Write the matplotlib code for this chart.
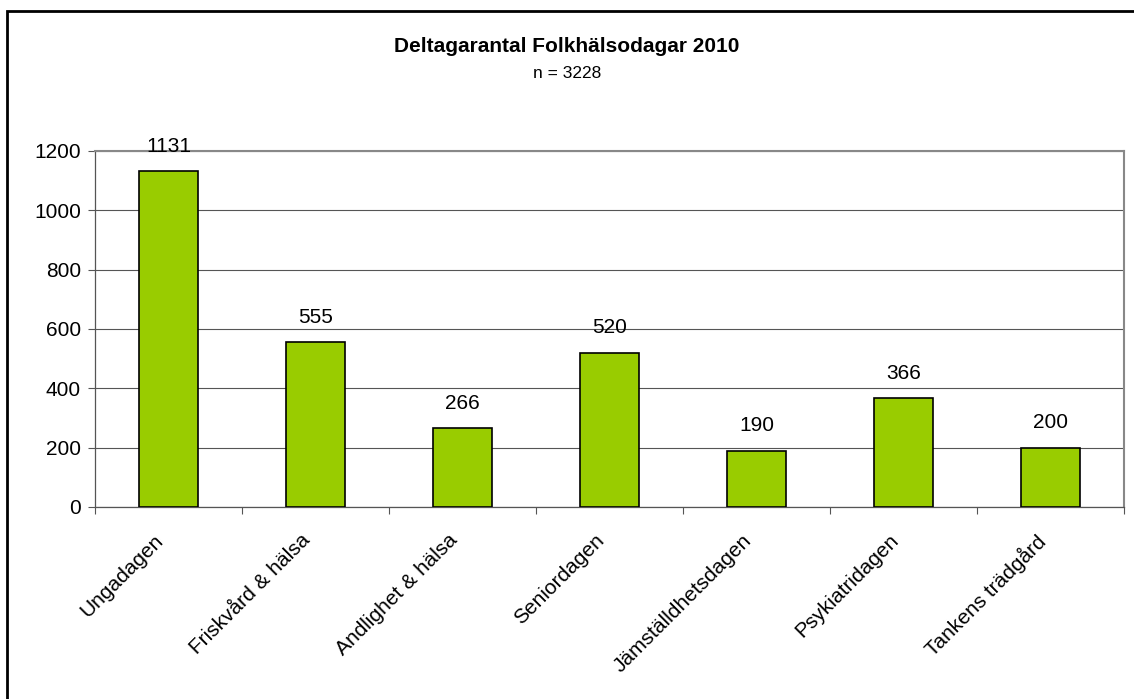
import matplotlib
matplotlib.use("Agg")
import matplotlib.pyplot as plt
from matplotlib.patches import Rectangle
import matplotlib.transforms as mtransforms
import numpy as np

categories = ["Ungadagen", "Friskvård & hälsa", "Andlighet & hälsa", "Seniordagen",
              "Jämställdhetsdagen", "Psykiatridagen", "Tankens trädgård"]
values = [1131, 555, 266, 520, 190, 366, 200]
yticks = [0, 200, 400, 600, 800, 1000, 1200]
title = "Deltagarantal Folkhälsodagar 2010"
subtitle = "n = 3228"

plt.rcParams['font.family'] = ['Liberation Sans', 'DejaVu Sans']

W, H = 1134, 699
fig = plt.figure(figsize=(W / 100, H / 100), dpi=100)
ax = fig.add_axes([95 / W, 1 - 507 / H, (1124 - 95) / W, (507 - 151) / H])

x = np.arange(len(categories))
ax.bar(x, values, width=0.4, color="#99CC00", edgecolor="black", linewidth=1.2, zorder=3)

ax.set_xlim(-0.5, len(categories) - 0.5)
ax.set_ylim(0, 1200)
ax.set_yticks(yticks)
ax.set_yticklabels([str(t) for t in yticks], fontsize=15)
ax.yaxis.grid(True, color="#555555", linewidth=0.8, zorder=0)
ax.tick_params(axis='y', length=5, width=0.8, color="#555555", pad=5)

ax.set_xticks(x)
ax.set_xticklabels(categories, rotation=45, ha='right', va='top',
                   rotation_mode='anchor', fontsize=15)
ax.tick_params(axis='x', which='major', length=0, pad=14)
ax.set_xticks(np.arange(len(categories) + 1) - 0.5, minor=True)
ax.tick_params(axis='x', which='minor', length=5, width=0.8, color="#555555")

offset = mtransforms.ScaledTranslation(-15 / 100, -4 / 100, fig.dpi_scale_trans)
for lbl in ax.get_xticklabels():
    lbl.set_transform(lbl.get_transform() + offset)

for s in ['left', 'bottom']:
    ax.spines[s].set_color("#555555")
    ax.spines[s].set_linewidth(0.9)
for s in ['top', 'right']:
    ax.spines[s].set_color("#888888")
    ax.spines[s].set_linewidth(1.5)

for xi, v in zip(x, values):
    ax.annotate(str(v), (xi, v), xytext=(0, 14), textcoords='offset points',
                ha='center', va='baseline', fontsize=15)

fig.text(0.5, 1 - 46 / H, title, ha='center', va='center', fontsize=15, fontweight='bold')
fig.text(0.5, 1 - 74 / H, subtitle, ha='center', va='center', fontsize=12.5)

fig.patches.append(Rectangle((7 / W, -0.1), 1.2, 1 - 11 / H + 0.1, transform=fig.transFigure,
                             fill=False, edgecolor='black', linewidth=2, zorder=10))

fig.savefig("out.png", dpi=100)
